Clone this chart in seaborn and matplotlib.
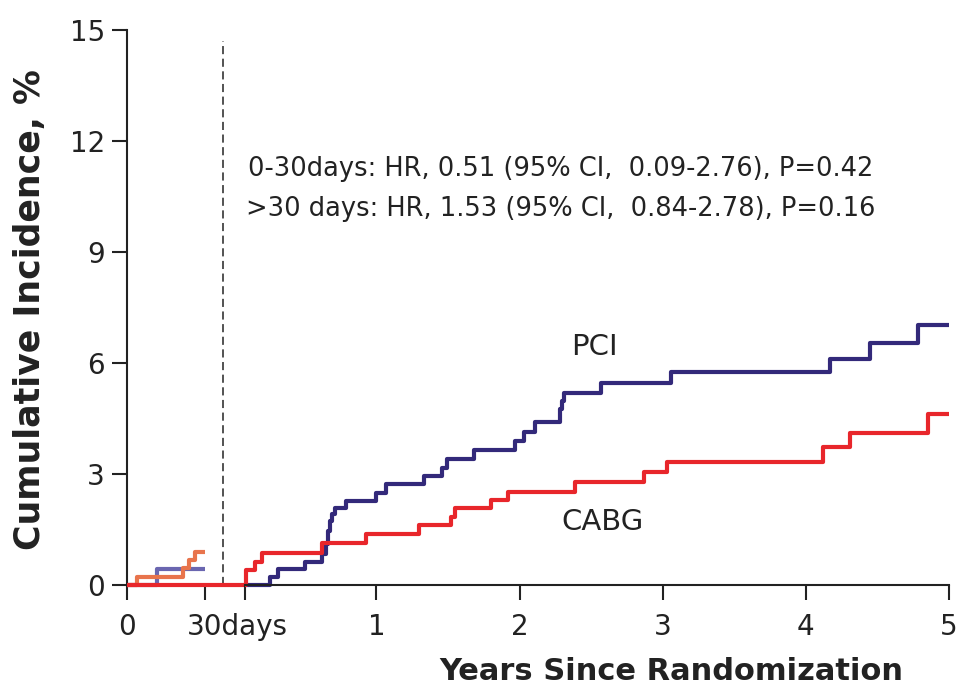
import matplotlib
matplotlib.use("Agg")
import matplotlib.pyplot as plt
import pandas as pd
import seaborn as sns

sns.set_theme(style="ticks")
plt.rcParams["font.family"] = ["DejaVu Sans"]

# ---- 0-30 day window (days since randomization) ----
early_pci_days = [0, 11.5, 30]
early_pci_pct = [0, 0.42, 0.42]
early_cabg_days = [0, 3.8, 21.5, 24, 26, 30]
early_cabg_pct = [0, 0.22, 0.45, 0.67, 0.89, 0.89]

# ---- landmark analysis from 30 days (years since randomization) ----
late_pci_years = [0.0821, 0.26, 0.31, 0.50, 0.62, 0.645, 0.66, 0.675, 0.69, 0.71,
                  0.79, 1.00, 1.07, 1.33, 1.46, 1.49, 1.68, 1.97, 2.03, 2.11,
                  2.28, 2.295, 2.31, 2.57, 3.06, 4.17, 4.45, 4.78, 5.0]
late_pci_pct = [0, 0.22, 0.44, 0.63, 0.84, 1.12, 1.45, 1.73, 1.91, 2.07,
                2.28, 2.50, 2.72, 2.95, 3.17, 3.40, 3.64, 3.90, 4.14, 4.40,
                4.75, 4.97, 5.20, 5.45, 5.77, 6.10, 6.53, 7.03, 7.03]
late_cabg_years = [0.0821, 0.086, 0.15, 0.20, 0.62, 0.93, 1.30, 1.52, 1.55,
                   1.80, 1.92, 2.39, 2.87, 3.03, 4.12, 4.31, 4.85, 5.0]
late_cabg_pct = [0, 0.41, 0.63, 0.87, 1.13, 1.38, 1.61, 1.84, 2.08,
                 2.30, 2.52, 2.78, 3.05, 3.32, 3.73, 4.11, 4.62, 4.62]

y_ticks = [0, 3, 6, 9, 12, 15]
day_ticks = [0, 30]
year_ticks = [30 / 365.25, 1, 2, 3, 4, 5]
year_labels = ["", "1", "2", "3", "4", "5"]
landmark_day = 37
hr_text = ["0-30days: HR, 0.51 (95% CI,  0.09-2.76), P=0.42",
           ">30 days: HR, 1.53 (95% CI,  0.84-2.78), P=0.16"]

PCI_COL = "#33297a"
CABG_COL = "#e8262b"
PCI_EARLY = "#6a66b0"
CABG_EARLY = "#e8744c"
AX_COL = "#222222"

W, H = 961, 687
fig = plt.figure(figsize=(W / 100, H / 100), dpi=100)
x0, x_split, x1 = 127, 245, 949
y_bot, y_top = 585, 30
ax1 = fig.add_axes([x0 / W, 1 - y_bot / H, (x_split - x0) / W, (y_bot - y_top) / H])
ax2 = fig.add_axes([x_split / W, 1 - y_bot / H, (x1 - x_split) / W, (y_bot - y_top) / H])

early = pd.concat([
    pd.DataFrame({"t": early_pci_days, "pct": early_pci_pct, "arm": "PCI"}),
    pd.DataFrame({"t": early_cabg_days, "pct": early_cabg_pct, "arm": "CABG"}),
])
late = pd.concat([
    pd.DataFrame({"t": late_pci_years, "pct": late_pci_pct, "arm": "PCI"}),
    pd.DataFrame({"t": late_cabg_years, "pct": late_cabg_pct, "arm": "CABG"}),
])

lw = 3.0
sns.lineplot(data=early, x="t", y="pct", hue="arm", hue_order=["PCI", "CABG"],
             palette={"PCI": PCI_EARLY, "CABG": CABG_EARLY}, estimator=None,
             sort=False, drawstyle="steps-post", linewidth=lw, legend=False,
             ax=ax1, clip_on=False, solid_capstyle="butt")
ax1.axhline(0, color=CABG_COL, lw=lw, clip_on=False, zorder=5, solid_capstyle="butt")
ax1.axvline(landmark_day, ymin=0, ymax=14.7 / 15, color="#444444", lw=1.3,
            linestyle=(0, (4.5, 2.5)), zorder=1)

sns.lineplot(data=late, x="t", y="pct", hue="arm", hue_order=["PCI", "CABG"],
             palette={"PCI": PCI_COL, "CABG": CABG_COL}, estimator=None,
             sort=False, drawstyle="steps-post", linewidth=lw, legend=False,
             ax=ax2, clip_on=False, solid_capstyle="butt")

days_span = 30 * (x_split - x0) / (205 - x0)
ax1.set_xlim(0, days_span)
ax2.set_xlim(30 / 365.25, 5)
tick_fs = 20
for ax in (ax1, ax2):
    ax.set_ylim(0, 15)
    ax.set_xlabel("")
    ax.set_ylabel("")
    ax.patch.set_alpha(0)
    for s in ("top", "right"):
        ax.spines[s].set_visible(False)
    ax.spines["bottom"].set_color(AX_COL)
    ax.spines["bottom"].set_linewidth(1.5)
    ax.tick_params(axis="x", length=11, width=1.5, color=AX_COL, pad=9,
                   labelsize=tick_fs, labelcolor=AX_COL, direction="out")

ax1.spines["left"].set_color(AX_COL)
ax1.spines["left"].set_linewidth(1.5)
ax1.set_yticks(y_ticks)
ax1.set_yticklabels([str(v) for v in y_ticks])
ax1.tick_params(axis="y", length=11, width=1.5, color=AX_COL, pad=5,
                labelsize=tick_fs, labelcolor=AX_COL, direction="out")
ax1.set_xticks(day_ticks)
ax1.set_xticklabels(["0", ""])
ax1.annotate("30days", xy=(30, 0), xycoords=("data", "axes fraction"),
             xytext=(-0.636 * tick_fs, -20), textcoords="offset points",
             ha="left", va="top", fontsize=tick_fs, color=AX_COL)

ax2.spines["left"].set_visible(False)
ax2.set_yticks([])
ax2.set_xticks(year_ticks)
ax2.set_xticklabels(year_labels)

ax2.text(2.52, 6.43, "PCI", fontsize=21, color=AX_COL, ha="center", va="center")
ax2.text(2.58, 1.70, "CABG", fontsize=21, color=AX_COL, ha="center", va="center")

fig.text(561 / W, 1 - 189 / H, "\n".join(hr_text), fontsize=18.5, color=AX_COL,
         ha="center", va="center", multialignment="center", linespacing=1.7)

fig.text(30 / W, 1 - 310 / H, "Cumulative Incidence, %", rotation=90,
         fontsize=25, fontweight="bold", color=AX_COL, ha="center", va="center")
fig.text(671 / W, 0.5 / H, "Years Since Randomization", fontsize=22,
         fontweight="bold", color=AX_COL, ha="center", va="bottom")

fig.savefig("out.png", dpi=100, facecolor="white")
